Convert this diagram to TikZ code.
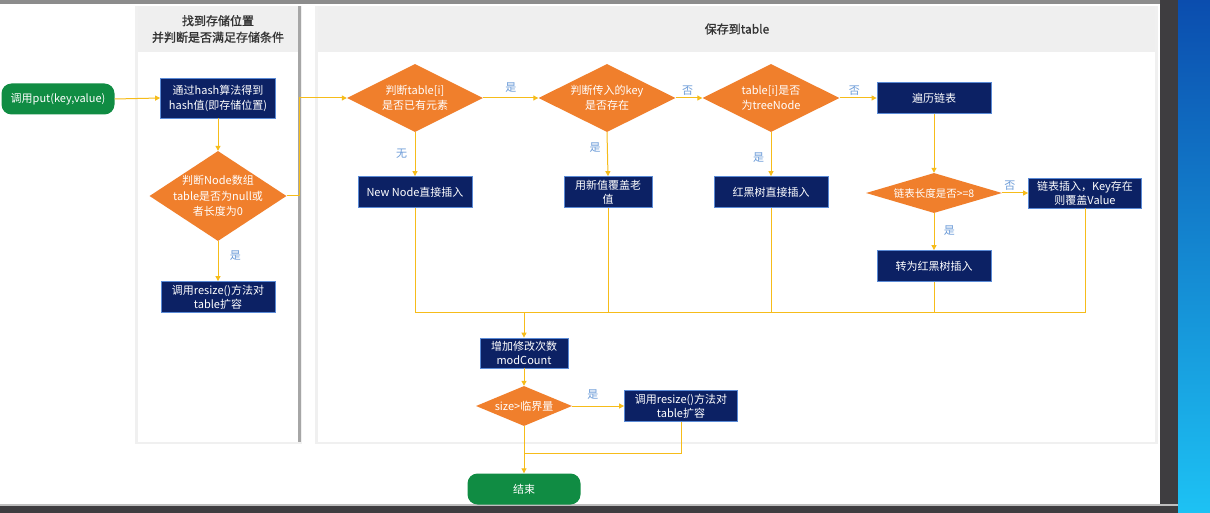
\documentclass[tikz,border=0pt]{standalone}
\usepackage{fontspec}
\setmainfont{Noto Sans CJK SC}
\newfontfamily\hdrfont[FakeBold=1.2]{Noto Sans CJK SC}
\usetikzlibrary{shapes.geometric,arrows.meta}
\definecolor{navy}{HTML}{0C2164}
\definecolor{boxedge}{HTML}{5A8AD6}
\definecolor{orng}{HTML}{F07F2C}
\definecolor{ylw}{HTML}{F6BC1A}
\definecolor{grn}{HTML}{108C43}
\definecolor{lbl}{HTML}{6B9BD8}
\definecolor{hdr}{HTML}{EFEFEF}
\definecolor{frame}{HTML}{3E3D40}
\definecolor{bluetop}{HTML}{0B4DAE}
\definecolor{bluebot}{HTML}{1DC2F4}
\begin{document}
\begin{tikzpicture}[x=1pt,y=-1pt,
 proc/.style={draw=boxedge, line width=0.8pt, fill=navy, text=white, font=\fontsize{11}{15}\selectfont, align=center, inner sep=1pt},
 dec/.style={diamond, fill=orng, text=white, font=\fontsize{11}{15.5}\selectfont, align=center, inner sep=-6pt},
 term/.style={rounded corners=10pt, fill=grn, text=white, font=\fontsize{11}{13}\selectfont, align=center, inner sep=1pt, minimum height=31pt},
 conn/.style={draw=ylw, line width=1pt},
 arr/.style={conn, -{Triangle[length=5pt,width=5pt]}},
 lab/.style={text=lbl, font=\fontsize{11}{12}\selectfont},
 hdrtext/.style={text=black!80, font=\hdrfont\fontsize{12}{16.5}\selectfont, align=center}
]
\useasboundingbox (0,0) rectangle (1210,513);
% screen background
\fill[white] (0,0) rectangle (1210,513);
\fill[black!45] (0,0) rectangle (1160,4);
\fill[frame] (1160,0) rectangle (1178,513);
\shade[top color=bluetop, bottom color=bluebot] (1178,0) rectangle (1210,513);
\fill[frame] (0,505) rectangle (1178,513);
\fill[black!25] (0,504) rectangle (1178,506);

% left panel
\fill[black!6] (135,6) rectangle (302,444);
\fill[white] (138,6) rectangle (300,442);
\fill[hdr] (138,6) rectangle (300,52);
\fill[black!35] (298,6) rectangle (301,442);
\node[hdrtext] (h1) at (218,29) {找到存储位置\\并判断是否满足存储条件};

% right panel
\fill[black!6] (315,6) rectangle (1158,444);
\fill[white] (318,6) rectangle (1155,442);
\fill[hdr] (318,6) rectangle (1155,52);
\node[hdrtext] (h2) at (737,29) {保存到table};

% nodes
\node[term, minimum width=113pt] (start) at (58,99) {调用put(key,value)};
\node[proc, minimum width=115pt, minimum height=40pt] (b1) at (218,98) {通过hash算法得到\\hash值(即存储位置)};
\node[dec, aspect=1.52, minimum width=137pt, minimum height=90pt] (d1) at (218,196) {判断Node数组\\table是否为null或\\者长度为0};
\node[proc, minimum width=114pt, minimum height=31pt, font=\fontsize{11}{14}\selectfont] (b2) at (218,297) {调用resize()方法对\\table扩容};

\node[dec, aspect=2, minimum width=136pt, minimum height=68pt] (d2) at (415,98) {判断table[i]\\是否已有元素};
\node[dec, aspect=2, minimum width=137pt, minimum height=68pt] (d3) at (607,98) {判断传入的key\\是否存在};
\node[dec, aspect=2, minimum width=137pt, minimum height=68pt] (d4) at (771,98) {table[i]是否\\为treeNode};
\node[proc, minimum width=114pt, minimum height=31pt] (trav) at (934,98) {遍历链表};

\node[proc, minimum width=114pt, minimum height=31pt] (nn) at (415,192) {New Node直接插入};
\node[proc, minimum width=88pt, minimum height=31pt, font=\fontsize{11}{14}\selectfont] (cov) at (608,192) {用新值覆盖老\\值};
\node[proc, minimum width=114pt, minimum height=31pt] (rbt) at (771,192) {红黑树直接插入};
\node[dec, aspect=3.4, minimum width=136pt, minimum height=40pt, font=\fontsize{10.5}{13}\selectfont] (d5) at (934,193) {链表长度是否>=8};
\node[proc, minimum width=113pt, minimum height=30pt, font=\fontsize{11}{14}\selectfont] (li) at (1085,193) {链表插入，Key存在\\则覆盖Value};
\node[proc, minimum width=114pt, minimum height=31pt] (crbt) at (934,266) {转为红黑树插入};

\coordinate (m) at (524,312);
\node[proc, minimum width=88pt, minimum height=30pt, font=\fontsize{11}{14}\selectfont] (mod) at (524,353) {增加修改次数\\modCount};
\node[dec, aspect=2.4, minimum width=96pt, minimum height=40pt] (d6) at (524,406) {size>临界量};
\node[proc, minimum width=113pt, minimum height=31pt, font=\fontsize{11}{14}\selectfont] (b3) at (681,406) {调用resize()方法对\\table扩容};
\coordinate (j2) at (524,453);
\node[term, minimum width=113pt] (end) at (524,489) {结束};

% connectors
\draw[arr] (start.east) -- (b1.west);
\draw[arr] (b1.south) -- (d1.north);
\draw[arr] (d1.south) -- (b2.north) node[lab, pos=0.35, right=8pt] {是};
\draw[arr] (d1.east) -- ++(13,0) |- (d2.west);
\draw[arr] (d2.east) -- (d3.west) node[lab, midway, above=2pt] {是};
\draw[arr] (d3.east) -- (d4.west) node[lab, pos=0.45, above=-1pt] {否};
\draw[arr] (d4.east) -- (trav.west) node[lab, pos=0.4, above=-1pt] {否};
\draw[arr] (d2.south) -- (nn.north) node[lab, midway, left=4pt] {无};
\draw[arr] (d3.south) -- (cov.north) node[lab, pos=0.36, left=3pt] {是};
\draw[arr] (d4.south) -- (rbt.north) node[lab, pos=0.58, left=3pt] {是};
\draw[arr] (trav.south) -- (d5.north);
\draw[arr] (d5.east) -- (li.west) node[lab, pos=0.3, above=-1pt] {否};
\draw[arr] (d5.south) -- (crbt.north) node[lab, pos=0.48, right=6pt] {是};

\draw[conn] (nn.south) |- (li.south |- m) -- (li.south);
\draw[conn] (cov.south) -- (cov.south |- m);
\draw[conn] (rbt.south) -- (rbt.south |- m);
\draw[conn] (crbt.south) -- (crbt.south |- m);
\draw[arr] (m) -- (mod.north);
\draw[arr] (mod.south) -- (d6.north);
\draw[arr] (d6.east) -- (b3.west) node[lab, pos=0.4, above=3pt] {是};
\draw[arr] (d6.south) -- (end.north);
\draw[conn] (b3.south) |- (j2);
\end{tikzpicture}
\end{document}
